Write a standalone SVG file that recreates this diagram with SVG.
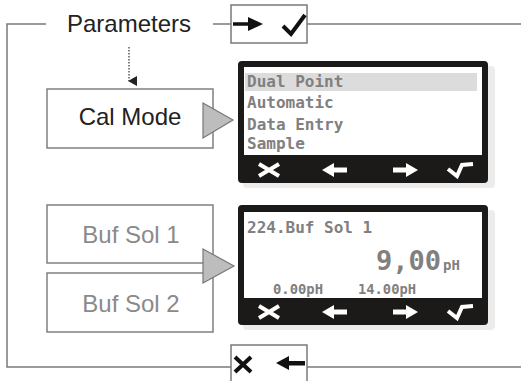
<svg xmlns="http://www.w3.org/2000/svg" width="521" height="381" viewBox="0 0 521 381">
<style>
.frame{fill:none;stroke:#7a7a7a;stroke-width:1.5}
.node{fill:#fff;stroke:#808080;stroke-width:1.5}
.lbl{font-family:"Liberation Sans",Arial,sans-serif;font-size:24px;text-anchor:middle}
.dark{fill:#222}
.grey{fill:#8a8a8a}
.tri{fill:#bdbdbd;stroke:#777;stroke-width:1.2}
.lcd{font-family:"DejaVu Sans Mono","Liberation Mono",monospace;font-weight:bold;fill:#808080}
.ico{stroke:#fff;fill:none;stroke-width:4}
.icof{fill:#fff}
.blk{stroke:#111;fill:none;stroke-width:4}
</style>
<defs>
<marker id="ah" markerWidth="10" markerHeight="9" refX="5" refY="8" orient="auto" markerUnits="userSpaceOnUse">
<path d="M0,0 L10,0 L5,9 Z" fill="#222"/>
</marker>
<g id="bar">
<path class="ico" d="M21,-6 L41,6 M21,6 L41,-6"/>
<path class="icof" d="M84,0 L96,-7 L96,-2.5 L109,-2.5 L109,2.5 L96,2.5 L96,7 Z"/>
<path class="icof" d="M180,0 L168,-7 L168,-2.5 L155,-2.5 L155,2.5 L168,2.5 L168,7 Z"/>
<path class="ico" d="M210,-1 L219,6 L224,-5 L235,-6"/>
</g>
</defs>

<g id="frame">
<path class="frame" d="M46,24 H7 V367 H231 M307,367 H521 M213,24 H231 M307,24 H521"/>
</g>

<g id="parameters">
<text class="lbl dark" x="129" y="32">Parameters</text>
</g>

<g id="ok-box">
<rect class="frame" x="231" y="5" width="76" height="38"/>
<path d="M233,24 H250" stroke="#111" stroke-width="3.5"/>
<path d="M248,17 L263,24 L248,31 Z" fill="#111"/>
<path class="blk" d="M283,26 L291,34 L305,15"/>
</g>

<g id="cancel-box">
<rect class="frame" x="231" y="345" width="76" height="40"/>
<path class="blk" d="M235,357 L251,372 M251,357 L235,372"/>
<path d="M276,363 L289,356 L289,361 L305,361 L305,365.5 L289,365.5 L289,370 Z" fill="#111"/>
</g>

<g id="connectors">
<path d="M129,47 V81" stroke="#333" stroke-width="1.2" stroke-dasharray="1.5,1.5" marker-end="url(#ah)"/>
</g>

<g id="cal-mode">
<rect class="node" x="47" y="89" width="166" height="59"/>
<text class="lbl dark" x="130" y="125">Cal Mode</text>
<path class="tri" d="M203,103 L233,120 L203,138 Z"/>
</g>

<g id="buf-sol-1">
<rect class="node" x="47" y="205" width="166" height="58"/>
<text class="lbl grey" x="131" y="243">Buf Sol 1</text>
</g>

<g id="buf-sol-2">
<rect class="node" x="47" y="273" width="166" height="59"/>
<text class="lbl grey" x="131" y="312">Buf Sol 2</text>
<path class="tri" d="M203,249 L234,266 L203,283 Z"/>
</g>

<g id="screen-1">
<rect x="243" y="66" width="252" height="122" rx="4" fill="#ececec"/>
<rect x="238" y="61" width="250" height="122" rx="4" fill="#1c1a19"/>
<rect x="244" y="67" width="238" height="88" fill="#fff"/>
<rect x="245" y="73" width="232" height="18" fill="#dcdcdc"/>
<text class="lcd" x="247" y="87" font-size="16">Dual Point</text>
<text class="lcd" x="247" y="108" font-size="16">Automatic</text>
<text class="lcd" x="247" y="130" font-size="16">Data Entry</text>
<text class="lcd" x="247" y="149" font-size="16">Sample</text>
<use href="#bar" x="238" y="170"/>
</g>

<g id="screen-2">
<rect x="243" y="210" width="252" height="120" rx="4" fill="#ececec"/>
<rect x="238" y="205" width="250" height="120" rx="4" fill="#1c1a19"/>
<rect x="244" y="212" width="238" height="86" fill="#fff"/>
<text class="lcd" x="247" y="233" font-size="16">224.Buf Sol 1</text>
<text class="lcd" x="376" y="270" font-size="27">9,00<tspan font-size="14" dx="2">pH</tspan></text>
<text class="lcd" x="273" y="294" font-size="14" textLength="50" lengthAdjust="spacingAndGlyphs">0.00pH</text>
<text class="lcd" x="358" y="294" font-size="14" textLength="58" lengthAdjust="spacingAndGlyphs">14.00pH</text>
<use href="#bar" x="238" y="312"/>
</g>
</svg>
